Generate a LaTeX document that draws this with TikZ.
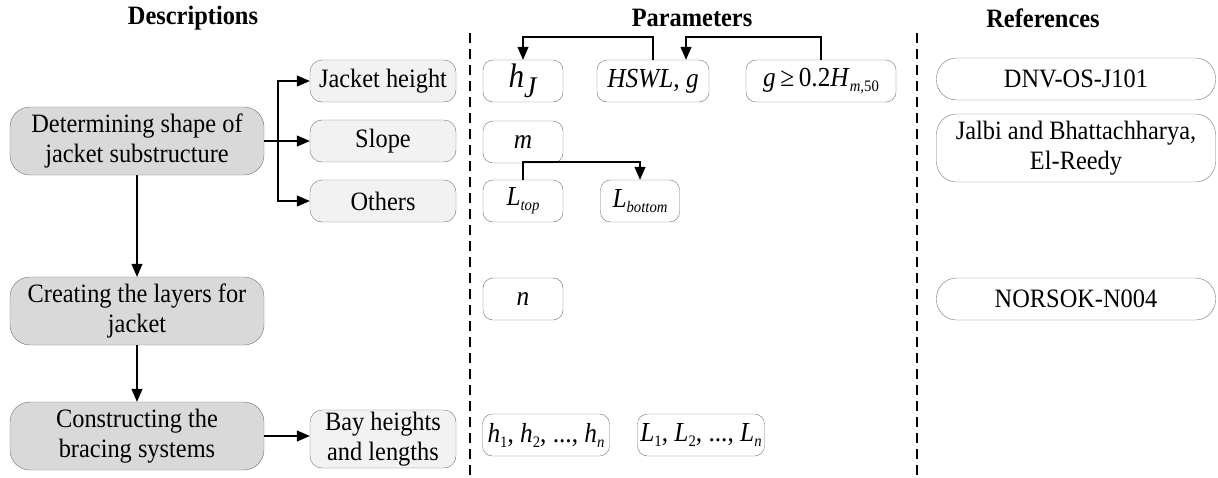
\documentclass[tikz,border=0pt]{standalone}
\usepackage{fontspec}
\setmainfont{Liberation Serif}[FakeStretch=0.92]
\usetikzlibrary{arrows.meta}
\newcommand{\iv}[1]{\textit{#1}}
\newcommand{\sbs}[1]{\raisebox{-5pt}{\fontsize{16}{16}\selectfont\textit{#1}}}
\newcommand{\sbn}[1]{\raisebox{-5pt}{\fontsize{16}{16}\selectfont #1}}
\begin{document}
\begin{tikzpicture}[x=1pt,y=-1pt,
  every node/.style={inner sep=0pt, align=center},
  txt/.style={font=\fontsize{26.5}{30}\selectfont},
  mainbox/.style={txt, draw=black!55, fill=black!15, rounded corners=20pt, minimum width=254pt, minimum height=68pt},
  subbox/.style={txt, draw=black!55, fill=black!5, rounded corners=12pt, minimum width=146pt, minimum height=42pt},
  parbox/.style={draw=black!55, fill=white, rounded corners=10pt, minimum height=42pt, font=\fontsize{27.5}{30}\selectfont},
  refbox/.style={txt, draw=black!55, fill=white, rounded corners=20pt, minimum width=279pt, minimum height=42pt},
  header/.style={font=\fontsize{26.5}{30}\selectfont\bfseries},
  line/.style={draw=black, line width=1.2pt},
  conn/.style={line, -{Triangle[length=13pt,width=11pt]}},
  divider/.style={draw=black, line width=1.3pt, dash pattern=on 10pt off 6pt}
]
\useasboundingbox (0,0) rectangle (1218,477);

% headers
\node[header] (h1) at (193,18) {Descriptions};
\node[header] (h2) at (692,18) {Parameters};
\node[header] (h3) at (1043,18) {References};

% dividers
\coordinate (v1t) at (470,33); \coordinate (v1b) at (470,477);
\coordinate (v2t) at (917,33); \coordinate (v2b) at (917,477);
\draw[divider] (v1t) -- (v1b);
\draw[divider] (v2t) -- (v2b);

% descriptions
\node[mainbox] (d1) at (137,141) {Determining shape of\\jacket substructure};
\node[mainbox] (d2) at (137,311) {Creating the layers for\\jacket};
\node[mainbox] (d3) at (137,436) {Constructing the\\bracing systems};

\node[subbox] (s1) at (383,81) {Jacket height};
\node[subbox] (s2) at (383,141) {Slope};
\node[subbox] (s3) at (383,201) {Others};
\node[subbox, minimum height=58pt] (s4) at (383,439) {Bay heights\\and lengths};

\coordinate (br) at (278,141);
\draw[line] (d1.east) -- (br);
\draw[conn] (br) |- (s1.west);
\draw[conn] (br) -- (s2.west);
\draw[conn] (br) |- (s3.west);
\draw[conn] (d1.south) -- (d2.north);
\draw[conn] (d2.south) -- (d3.north);
\draw[conn] (d3.east) -- (d3.east -| s4.west);

% parameters
\node[parbox, minimum width=80pt] (p1) at (523,81) {{\fontsize{34}{34}\selectfont\iv{h}}\raisebox{-10pt}{\fontsize{30}{30}\selectfont\iv{J}}};
\node[parbox, minimum width=112pt] (p2) at (653,81) {\iv{HSWL}, \iv{g}};
\node[parbox, minimum width=150pt] (p3) at (821,81) {\iv{g}\,≥\,0.2\iv{H}\sbs{m,}\sbn{50}};
\node[parbox, minimum width=80pt] (p4) at (523,142) {\iv{m}};
\node[parbox, minimum width=80pt] (p5) at (523,201) {\iv{L}\sbs{top}};
\node[parbox, minimum width=79pt] (p6) at (640,201) {\iv{L}\sbs{bottom}};
\node[parbox, minimum width=80pt] (p7) at (523,299) {\iv{n}};
\node[parbox, minimum width=127pt] (p8) at (546,435) {\iv{h}\sbn{1}, \iv{h}\sbn{2}, ..., \iv{h}\sbs{n}};
\node[parbox, minimum width=127pt] (p9) at (701,435) {\iv{L}\sbn{1}, \iv{L}\sbn{2}, ..., \iv{L}\sbs{n}};

\coordinate (topline) at (0,37);
\coordinate (midline) at (0,162);
\draw[conn] (p2.north) -- (p2.north |- topline) -| (p1.north);
\draw[conn] (p3.north) -- (p3.north |- topline) -| ([xshift=33pt]p2.north);
\draw[conn] (p5.north) -- (p5.north |- midline) -| (p6.north);

% references
\node[refbox] (r1) at (1076,79) {DNV-OS-J101};
\node[refbox, minimum height=68pt] (r2) at (1076,148) {Jalbi and Bhattachharya,\\El-Reedy};
\node[refbox] (r3) at (1076,299) {NORSOK-N004};
\end{tikzpicture}
\end{document}
